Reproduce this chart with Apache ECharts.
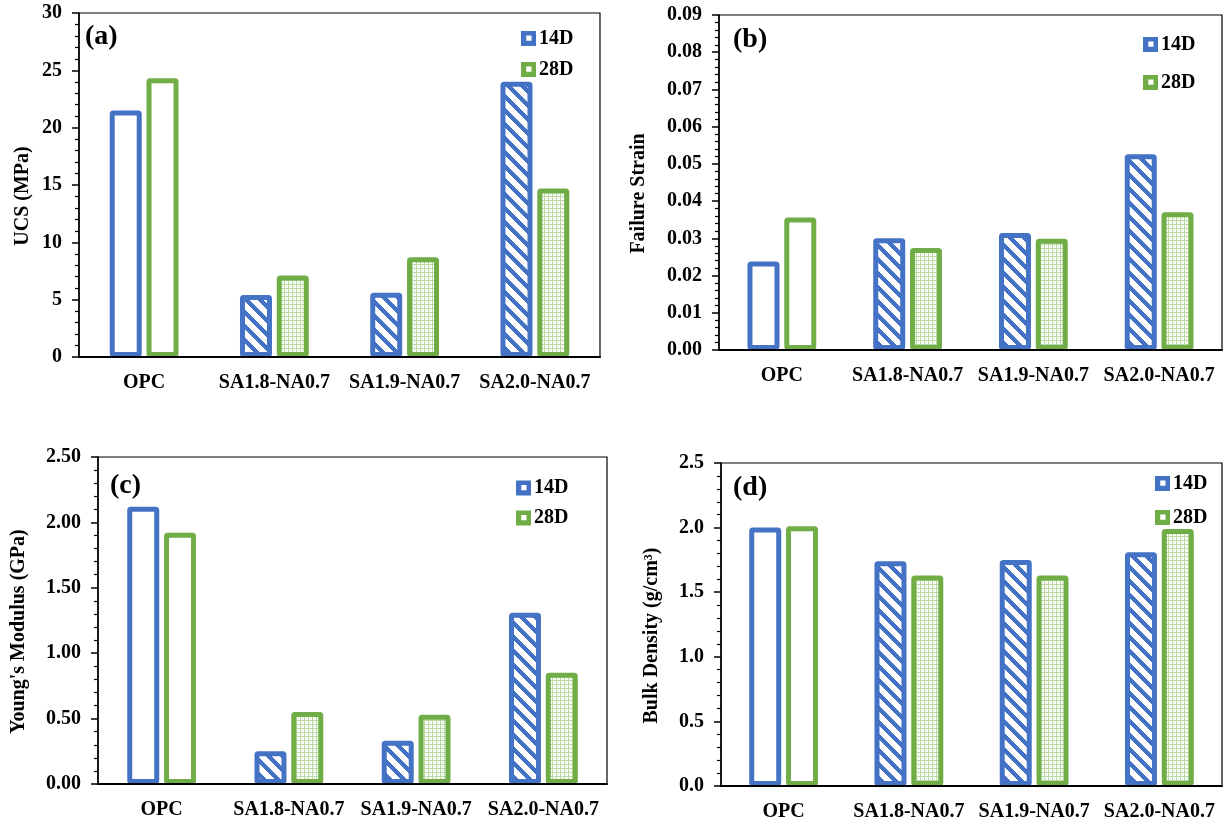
<!DOCTYPE html>
<html>
<head>
<meta charset="utf-8">
<script src="https://cdn.jsdelivr.net/npm/echarts@6.0.0/dist/echarts.min.js"></script>
<style>
html,body{margin:0;padding:0;background:#fff;}
#chart{width:1228px;height:826px;}
</style>
</head>
<body>
<div id="chart"></div>
<script>
// ---- data ----
const categories = ['OPC', 'SA1.8-NA0.7', 'SA1.9-NA0.7', 'SA2.0-NA0.7'];
const seriesNames = ['14D', '28D'];
const ucs14 = [21.5, 5.4, 5.6, 24.0];
const ucs28 = [24.3, 7.1, 8.7, 14.7];
const strain14 = [0.0238, 0.0300, 0.0314, 0.0526];
const strain28 = [0.0356, 0.0274, 0.0299, 0.0370];
const modulus14 = [2.12, 0.25, 0.33, 1.31];
const modulus28 = [1.92, 0.55, 0.53, 0.85];
const density14 = [2.00, 1.74, 1.75, 1.81];
const density28 = [2.01, 1.63, 1.63, 1.99];
const panelLabels = ['(a)', '(b)', '(c)', '(d)'];
const axisTitles = ['UCS (MPa)', 'Failure Strain', "Young's Modulus (GPa)", 'Bulk Density (g/cm³)'];

// ---- styling ----
const FONT = '"Liberation Serif", "Times New Roman", serif';
const BLUE = '#4472C4';
const GREEN = '#70AD47';

function stripePattern() {
  const s = 14, c = document.createElement('canvas');
  c.width = s; c.height = s;
  const ctx = c.getContext('2d');
  const img = ctx.createImageData(s, s);
  for (let y = 0; y < s; y++) for (let x = 0; x < s; x++) {
    const d = ((x - y) % s + s) % s;
    const i = (y * s + x) * 4;
    if (d < 6) { img.data[i] = 0x44; img.data[i+1] = 0x72; img.data[i+2] = 0xC4; }
    else { img.data[i] = 255; img.data[i+1] = 255; img.data[i+2] = 255; }
    img.data[i+3] = 255;
  }
  ctx.putImageData(img, 0, 0);
  return { image: c, repeat: 'repeat' };
}
function dotPattern() {
  const s = 4, c = document.createElement('canvas');
  c.width = s; c.height = s;
  const ctx = c.getContext('2d');
  ctx.fillStyle = '#ffffff'; ctx.fillRect(0, 0, s, s);
  ctx.fillStyle = '#b9d9a3';
  ctx.fillRect(0, 0, s, 1); ctx.fillRect(0, 0, 1, s);
  ctx.fillStyle = '#d6e9c8';
  ctx.fillRect(2, 2, 1, 1);
  return { image: c, repeat: 'repeat' };
}
const stripes = stripePattern();
const dots = dotPattern();

const panels = [
  { v14: ucs14, v28: ucs28, max: 30, interval: 5, dec: 0,
    grid: { left: 79, top: 13, width: 521, height: 344 },
    label: [85, 23], legend: [521, 28.5, 11], nameGap: 46 },
  { v14: strain14, v28: strain28, max: 0.09, interval: 0.01, dec: 2,
    grid: { left: 719, top: 15, width: 503, height: 335 },
    label: [733, 26], legend: [1143, 34.5, 18], nameGap: 70 },
  { v14: modulus14, v28: modulus28, max: 2.5, interval: 0.5, dec: 2,
    grid: { left: 98, top: 457, width: 509, height: 327 },
    label: [110, 472], legend: [516, 478, 10], nameGap: 69 },
  { v14: density14, v28: density28, max: 2.5, interval: 0.5, dec: 1,
    grid: { left: 721, top: 463, width: 501, height: 323 },
    label: [733, 474], legend: [1155, 473.5, 14], nameGap: 59 }
];

const holeIcon = 'path://M0,0 L10,0 L10,10 L0,10 Z M3.5,3 L3.5,6.5 L7,6.5 L7,3 Z';

const grids = [], xAxes = [], yAxes = [], series = [], legends = [], graphics = [];
panels.forEach((p, i) => {
  grids.push(Object.assign({ show: true, borderColor: '#000', borderWidth: 1.2, backgroundColor: 'transparent' }, p.grid));
  xAxes.push({
    type: 'category', gridIndex: i, data: categories, z: 5,
    axisLine: { lineStyle: { color: '#000', width: 2 } },
    axisTick: { show: false },
    axisLabel: { interval: 0, margin: 16, color: '#000', fontFamily: FONT, fontWeight: 'bold', fontSize: 20 }
  });
  yAxes.push({
    type: 'value', gridIndex: i, min: 0, max: p.max, interval: p.interval,
    name: axisTitles[i], nameLocation: 'middle', nameGap: p.nameGap,
    nameTextStyle: { color: '#000', fontFamily: FONT, fontWeight: 'bold', fontSize: 20, padding: [0, 22, 0, 0] },
    axisLine: { show: true, lineStyle: { color: '#000', width: 1.5 } },
    axisTick: { show: true, inside: false, length: 7, lineStyle: { color: '#000', width: 1.5 } },
    minorTick: { show: true, splitNumber: 5, length: 4, lineStyle: { color: '#000', width: 1.2 } },
    splitLine: { show: false },
    axisLabel: { margin: 17, color: '#000', fontFamily: FONT, fontWeight: 'bold', fontSize: 20,
      formatter: v => Number(v).toFixed(p.dec) }
  });
  [p.v14, p.v28].forEach((vals, k) => {
    const col = k === 0 ? BLUE : GREEN;
    const fillPat = k === 0 ? stripes : dots;
    series.push({
      type: 'bar', name: seriesNames[k], xAxisIndex: i, yAxisIndex: i,
      barWidth: 32, barGap: '15%', z: 2,
      itemStyle: { color: col, borderColor: col, borderWidth: 5, borderJoin: 'round', borderRadius: 1 },
      data: vals.map((v, j) => ({ value: v, itemStyle: { color: j === 0 ? '#ffffff' : fillPat, borderColor: col } }))
    });
  });
  legends.push({
    orient: 'vertical', left: p.legend[0], top: p.legend[1], itemGap: p.legend[2],
    itemWidth: 15, itemHeight: 15, padding: 0, selectedMode: false,
    data: [
      { name: '14D', icon: holeIcon, itemStyle: { color: BLUE, borderWidth: 0 } },
      { name: '28D', icon: holeIcon, itemStyle: { color: GREEN, borderWidth: 0 } }
    ],
    textStyle: { color: '#000', fontFamily: FONT, fontWeight: 'bold', fontSize: 20, padding: [0, 0, 0, -2] }
  });
  graphics.push({
    type: 'text', left: p.label[0], top: p.label[1], z: 10,
    style: { text: panelLabels[i], font: 'bold 28px ' + FONT, fill: '#000' }
  });
});

const chart = echarts.init(document.getElementById('chart'), null, { renderer: 'canvas' });
chart.setOption({
  animation: false,
  backgroundColor: '#fff',
  grid: grids, xAxis: xAxes, yAxis: yAxes, series: series, legend: legends, graphic: graphics
});
</script>
</body>
</html>
